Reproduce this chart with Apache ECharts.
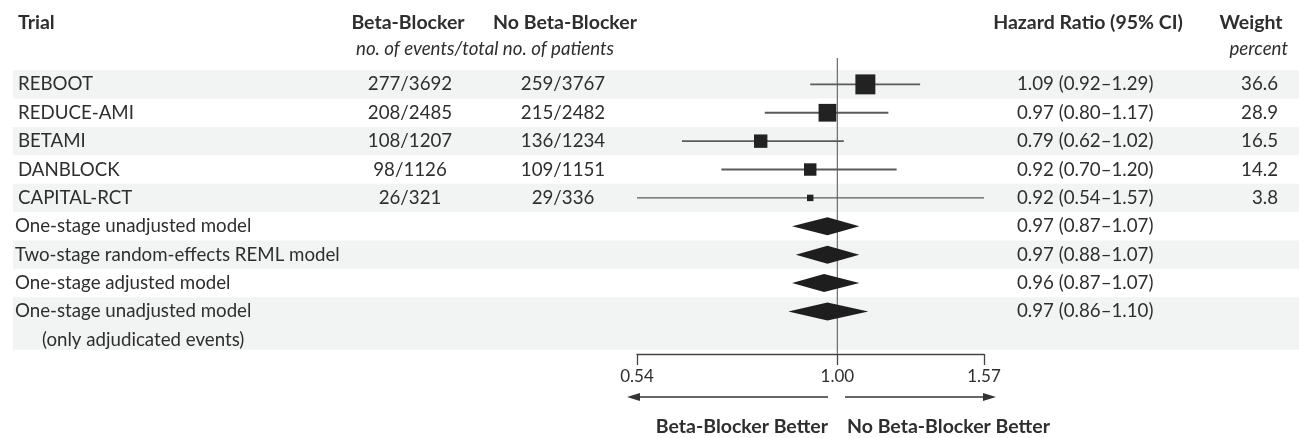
<!DOCTYPE html>
<html>
<head>
<meta charset="utf-8">
<script src="https://cdn.jsdelivr.net/npm/echarts@6/dist/echarts.min.js"></script>
<style>html,body{margin:0;padding:0;background:#fff;}#c{width:1299px;height:438px;}</style>
</head>
<body>
<div id="c"></div>
<script>
// ---- data ----
var trials = ['REBOOT', 'REDUCE-AMI', 'BETAMI', 'DANBLOCK', 'CAPITAL-RCT'];
var bbEvents = ['277/3692', '208/2485', '108/1207', '98/1126', '26/321'];
var noBbEvents = ['259/3767', '215/2482', '136/1234', '109/1151', '29/336'];
var trialHr = [1.09, 0.97, 0.79, 0.92, 0.92];
var trialLo = [0.92, 0.80, 0.62, 0.70, 0.54];
var trialHi = [1.29, 1.17, 1.02, 1.20, 1.57];
var trialWeight = [36.6, 28.9, 16.5, 14.2, 3.8];
var models = ['One-stage unadjusted model', 'Two-stage random-effects REML model', 'One-stage adjusted model', 'One-stage unadjusted model'];
var modelSubLabel = ['', '', '', '(only adjudicated events)'];
var modelHr = [0.97, 0.97, 0.96, 0.97];
var modelLo = [0.87, 0.88, 0.87, 0.86];
var modelHi = [1.07, 1.07, 1.07, 1.10];
var tickValues = [0.54, 1.00, 1.57];

// ---- chart ----
var FONT = 'Lato';
var FS = 18.7;
var HFS = 19.5;
var TXT = '#2e2e2e';
var ln = Math.log;
function fmt(v) { return v.toFixed(2); }

var nT = trials.length;
var rowsText = [];
for (var i = 0; i < nT; i++) {
  rowsText.push({ row: i, label: trials[i], sub: '', bb: bbEvents[i], nobb: noBbEvents[i],
    hr: fmt(trialHr[i]) + ' (' + fmt(trialLo[i]) + '\u2013' + fmt(trialHi[i]) + ')', w: trialWeight[i].toFixed(1), model: false });
}
for (var j = 0; j < models.length; j++) {
  rowsText.push({ row: nT + j, label: models[j], sub: modelSubLabel[j], bb: '', nobb: '',
    hr: fmt(modelHr[j]) + ' (' + fmt(modelLo[j]) + '\u2013' + fmt(modelHi[j]) + ')', w: '', model: true });
}
var nRows = rowsText.length;
// stripe bands (row ranges) for alternate rows
var stripes = [];
for (var k = 0; k < nRows; k += 2) {
  var last = (k === nRows - 1);
  stripes.push([k - 0.5, last ? k + 1.35 : k + 0.5]);
}

var ciData = [], sqData = [], diaData = [];
for (var i2 = 0; i2 < nT; i2++) {
  ciData.push([ln(trialLo[i2]), ln(trialHi[i2]), i2]);
  sqData.push({ value: [ln(trialHr[i2]), i2], symbolSize: 3.3 * Math.sqrt(trialWeight[i2]) });
}
for (var j2 = 0; j2 < models.length; j2++) {
  diaData.push([ln(modelLo[j2]), ln(modelHr[j2]), ln(modelHi[j2]), nT + j2]);
}

var chart = echarts.init(document.getElementById('c'), null, { renderer: 'canvas' });

function txt(x, y, s, opt) {
  opt = opt || {};
  return { type: 'text', x: x, y: y, silent: true,
    style: { text: s, fill: opt.fill || TXT, font: (opt.italic ? 'italic ' : '') + (opt.bold ? 'bold ' : '') + (opt.size || FS) + 'px ' + FONT,
      textAlign: opt.align || 'left', textVerticalAlign: 'middle' } };
}

var option = {
  animation: false,
  grid: { left: 637, right: 315, top: 56, height: 298 },
  xAxis: {
    type: 'value', min: ln(tickValues[0]), max: ln(tickValues[2]),
    splitLine: { show: false },
    axisLine: { show: true, onZero: false, lineStyle: { color: '#444', width: 1.3 } },
    axisTick: { show: true, inside: false, length: 11, lineStyle: { color: '#444', width: 1.3 },
      customValues: tickValues.map(ln) },
    axisLabel: { show: true, margin: 14, color: TXT, fontFamily: FONT, fontSize: 17,
      customValues: tickValues.map(ln), formatter: function (v) { return fmt(Math.exp(v)); } }
  },
  yAxis: { type: 'value', min: -1, max: 9.5, inverse: true, show: false },
  series: [
    { // stripes
      type: 'custom', clip: false, z: 0, silent: true,
      data: stripes,
      renderItem: function (params, api) {
        var a = api.coord([0, api.value(0)]);
        var b = api.coord([0, api.value(1)]);
        return { type: 'rect', shape: { x: 13, y: a[1], width: api.getWidth() - 13, height: b[1] - a[1] },
          style: { fill: '#f2f3f3' } };
      }
    },
    { // reference line at HR = 1
      type: 'line', z: 2, silent: true, symbol: 'none',
      data: [[ln(1), -0.93], [ln(1), 9.5]],
      lineStyle: { color: '#6a6a6a', width: 1.2 }
    },
    { // CI lines
      type: 'custom', clip: false, z: 3, silent: true,
      data: ciData,
      renderItem: function (params, api) {
        var a = api.coord([api.value(0), api.value(2)]);
        var b = api.coord([api.value(1), api.value(2)]);
        return { type: 'line', shape: { x1: a[0], y1: a[1], x2: b[0], y2: b[1] },
          style: { stroke: '#5a5a5a', lineWidth: params.dataIndex === 4 ? 1.4 : 1.8 } };
      }
    },
    { // squares
      type: 'scatter', z: 4, silent: true, symbol: 'rect',
      data: sqData,
      itemStyle: { color: '#222', opacity: 1 }
    },
    { // diamonds
      type: 'custom', clip: false, z: 4, silent: true,
      data: diaData,
      renderItem: function (params, api) {
        var r = api.value(3);
        var a = api.coord([api.value(0), r]);
        var m = api.coord([api.value(1), r]);
        var b = api.coord([api.value(2), r]);
        return { type: 'polygon', shape: { points: [[a[0], a[1]], [m[0], m[1] - 9], [b[0], b[1]], [m[0], m[1] + 9]] },
          style: { fill: '#1e1e1e' } };
      }
    },
    { // table text
      type: 'custom', clip: false, z: 5, silent: true,
      data: rowsText.map(function (r) { return [0, r.row]; }),
      renderItem: function (params, api) {
        var r = rowsText[params.dataIndex];
        var y = api.coord([0, r.row])[1];
        var ch = [];
        ch.push(txt(r.model ? 15 : 18, y, r.label));
        if (r.sub) ch.push(txt(42, y + 29, r.sub));
        if (r.bb) ch.push(txt(410, y, r.bb, { align: 'center' }));
        if (r.nobb) ch.push(txt(563, y, r.nobb, { align: 'center' }));
        ch.push(txt(1017, y, r.hr));
        if (r.w) ch.push(txt(1278, y, r.w, { align: 'right' }));
        return { type: 'group', children: ch };
      }
    }
  ],
  graphic: [
    txt(18, 23, 'Trial', { bold: true, size: HFS }),
    txt(408, 23, 'Beta-Blocker', { bold: true, align: 'center', size: HFS }),
    txt(565, 23, 'No Beta-Blocker', { bold: true, align: 'center', size: HFS }),
    txt(1088, 23, 'Hazard Ratio (95% CI)', { bold: true, align: 'center', size: HFS }),
    txt(1251, 23, 'Weight', { bold: true, align: 'center', size: HFS }),
    txt(485, 49, 'no. of events/total no. of patients', { italic: true, align: 'center' }),
    txt(1288, 49, 'percent', { italic: true, align: 'right' }),
    { type: 'line', shape: { x1: 638, y1: 397, x2: 828, y2: 397 }, style: { stroke: '#333', lineWidth: 1.5 } },
    { type: 'polygon', shape: { points: [[627, 397], [640, 393], [640, 401]] }, style: { fill: '#333' } },
    { type: 'line', shape: { x1: 845, y1: 397, x2: 984, y2: 397 }, style: { stroke: '#333', lineWidth: 1.5 } },
    { type: 'polygon', shape: { points: [[996, 397], [983, 393], [983, 401]] }, style: { fill: '#333' } },
    txt(828, 427, 'Beta-Blocker Better', { bold: true, align: 'right', size: HFS }),
    txt(847, 427, 'No Beta-Blocker Better', { bold: true, size: HFS })
  ]
};
chart.setOption(option);
</script>
</body>
</html>
